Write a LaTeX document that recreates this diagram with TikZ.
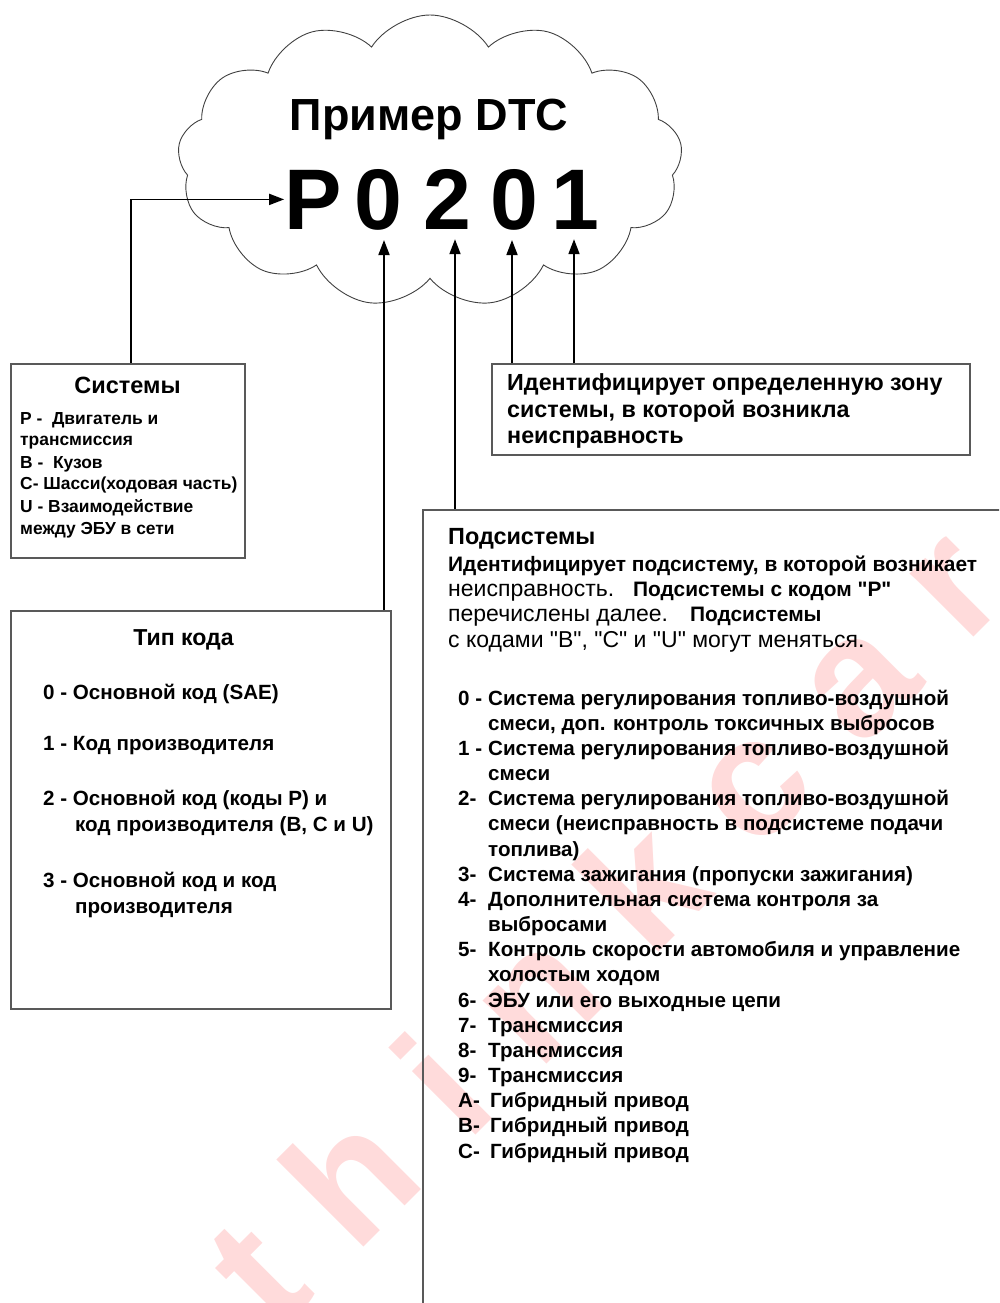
\documentclass[tikz,border=0pt]{standalone}
\usepackage{fontspec}
\setmainfont{Liberation Sans}[Ligatures=TeXOff]
\usetikzlibrary{shapes.symbols,arrows.meta}
\begin{document}
\begin{tikzpicture}[x=1pt,y=-1pt,
  box/.style={draw=black!65, line width=1.6pt, anchor=north west, inner sep=0pt},
  arr/.style={line width=1.8pt, -{Triangle[length=15pt,width=11pt]}},
  txt/.style={anchor=base west, inner sep=0pt, text=black},
  ctxt/.style={anchor=base, inner sep=0pt, text=black},
  dig/.style={anchor=base, inner xsep=0pt, inner ysep=10pt, font=\fontsize{86}{86}\selectfont\bfseries},
  fsys/.style={font=\fontsize{17.4}{17.4}\selectfont\bfseries},
  fid/.style={font=\fontsize{23.3}{23.3}\selectfont\bfseries},
  ftyp/.style={font=\fontsize{20.6}{20.6}\selectfont\bfseries},
  fsub/.style={font=\fontsize{23}{23}\selectfont},
  flist/.style={font=\fontsize{20.6}{20.6}\selectfont\bfseries},
]
\newcommand{\bsub}{\fontsize{20.9}{20.9}\selectfont\bfseries}
\useasboundingbox (0,0) rectangle (999,1303);
\clip (0,0) rectangle (999,1303);

% watermark
\node[rotate=45, text=red, opacity=0.14, inner sep=0pt,
      font=\fontsize{170}{170}\selectfont\bfseries] (wm) at (602,923)
  {t\hspace{54pt}h\hspace{54pt}i\hspace{54pt}n\hspace{54pt}k\hspace{54pt}c\hspace{54pt}a\hspace{54pt}r};

% cloud
\node[cloud, draw=black!75, line width=0.9pt, cloud puffs=13, cloud puff arc=115,
      aspect=1.75, minimum width=505pt, minimum height=292pt, inner sep=0pt] (cloud) at (430,161) {};

\node[ctxt, font=\fontsize{45}{45}\selectfont\bfseries] (title) at (429,131) {Пример DTC};
\node[dig] (P) at (313,229) {P};
\node[dig] (d0a) at (378.5,229) {0};
\node[dig] (d2) at (447.5,229) {2};
\node[dig] (d0b) at (514,229) {0};
\node[dig] (d1) at (575,229) {1};

% boxes
\node[box, minimum width=234pt, minimum height=194pt] (sys) at (10,363) {};
\node[box, minimum width=478pt, minimum height=91pt] (ident) at (491,363) {};
\node[box, minimum width=380pt, minimum height=398pt] (typ) at (10,610) {};
\node[box, minimum width=620pt, minimum height=850pt] (sub) at (422,509) {};

% arrows
\draw[arr] ([xshift=3pt]sys.north) |- (P.west);
\draw[arr] ([xshift=5.5pt]d0a.south |- typ.north) -- ([xshift=5.5pt]d0a.south);
\draw[arr] ([xshift=7.5pt]d2.south |- sub.north) -- ([xshift=7.5pt]d2.south);
\draw[arr] ([xshift=-2pt]d0b.south |- ident.north) -- ([xshift=-2pt]d0b.south);
\draw[arr] ([xshift=-1pt]d1.south |- ident.north) -- ([xshift=-1pt]d1.south);

% Системы
\node[ctxt, font=\fontsize{23.5}{23.5}\selectfont\bfseries] (sysT) at (127.5,393) {Системы};
\node[txt, fsys] (s1) at (20,424) {P -\ \ Двигатель и};
\node[txt, fsys] (s2) at (20,445) {трансмиссия};
\node[txt, fsys] (s3) at (20,468) {B -\ \ Кузов};
\node[txt, fsys] (s4) at (20,489) {C- Шасси(ходовая часть)};
\node[txt, fsys] (s5) at (20,512) {U - Взаимодействие};
\node[txt, fsys] (s6) at (20,534) {между ЭБУ в сети};

% Идентифицирует
\node[txt, fid] (i1) at (507,390) {Идентифицирует определенную зону};
\node[txt, fid] (i2) at (507,417) {системы, в которой возникла};
\node[txt, fid] (i3) at (507,443) {неисправность};

% Тип кода
\node[ctxt, font=\fontsize{23.1}{23.1}\selectfont\bfseries] (typT) at (183.5,645) {Тип кода};
\node[txt, ftyp] (t0) at (43,699) {0 - Основной код (SAE)};
\node[txt, ftyp] (t1) at (43,750) {1 - Код производителя};
\node[txt, ftyp] (t2) at (43,805) {2 - Основной код (коды P) и};
\node[txt, ftyp] (t2b) at (75,831) {код производителя (B, C и U)};
\node[txt, ftyp] (t3) at (43,887) {3 - Основной код и код};
\node[txt, ftyp] (t3b) at (75,913) {производителя};

% Подсистемы
\node[txt, font=\fontsize{23.4}{23.4}\selectfont\bfseries] (subT) at (448,544) {Подсистемы};
\node[txt, fsub] (u1) at (448,571) {\bsub Идентифицирует подсистему, в которой возникает};
\node[txt, fsub] (u2) at (448,596) {неисправность.\hspace{19pt}\bsub Подсистемы с кодом "P"};
\node[txt, fsub] (u3) at (448,621) {перечислены далее.\hspace{22pt}\bsub Подсистемы};
\node[txt, fsub] (u4) at (448,647) {с кодами "B", "C" и "U" могут меняться.};

\newcommand{\lnum}[1]{\makebox[30pt][l]{#1}}
\node[txt, flist] (l0) at (458,705) {\lnum{0 -}Система регулирования топливо-воздушной};
\node[txt, flist] (l0b) at (488,730.2) {смеси, доп. контроль токсичных выбросов};
\node[txt, flist] (l1) at (458,755.3) {\lnum{1 -}Система регулирования топливо-воздушной};
\node[txt, flist] (l1b) at (488,780.5) {смеси};
\node[txt, flist] (l2) at (458,805.7) {\lnum{2-}Система регулирования топливо-воздушной};
\node[txt, flist] (l2b) at (488,830.9) {смеси (неисправность в подсистеме подачи};
\node[txt, flist] (l2c) at (488,856) {топлива)};
\node[txt, flist] (l3) at (458,881.2) {\lnum{3-}Система зажигания (пропуски зажигания)};
\node[txt, flist] (l4) at (458,906.4) {\lnum{4-}Дополнительная система контроля за};
\node[txt, flist] (l4b) at (488,931.5) {выбросами};
\node[txt, flist] (l5) at (458,956.7) {\lnum{5-}Контроль скорости автомобиля и управление};
\node[txt, flist] (l5b) at (488,981.9) {холостым ходом};
\node[txt, flist] (l6) at (458,1007) {\lnum{6-}ЭБУ или его выходные цепи};
\node[txt, flist] (l7) at (458,1032.2) {\lnum{7-}Трансмиссия};
\node[txt, flist] (l8) at (458,1057.4) {\lnum{8-}Трансмиссия};
\node[txt, flist] (l9) at (458,1082.5) {\lnum{9-}Трансмиссия};
\node[txt, flist] (lA) at (458,1107.7) {\lnum{A-}\hspace{2pt}Гибридный привод};
\node[txt, flist] (lB) at (458,1132.9) {\lnum{B-}\hspace{2pt}Гибридный привод};
\node[txt, flist] (lC) at (458,1158) {\lnum{C-}\hspace{2pt}Гибридный привод};
\end{tikzpicture}
\end{document}
